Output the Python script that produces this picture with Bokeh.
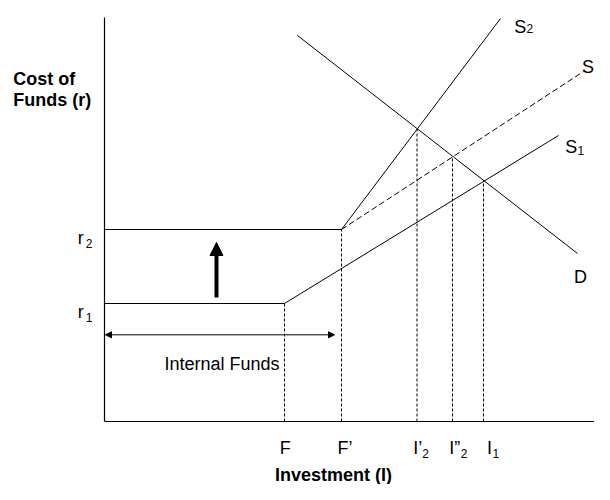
from bokeh.plotting import figure
from bokeh.models import Range1d, Arrow, NormalHead, ColumnDataSource
from bokeh.core.properties import value
from bokeh.embed import file_html
from bokeh.resources import INLINE

# ---------------- data (investment I on x, cost of funds r on y) ----------------
F_int = 180.0       # F  : internal funds (before)
F_int2 = 237.0      # F' : internal funds (after)
r1 = 118.0
r2 = 192.0
I2p = 312.5         # I'_2
I2pp = 348.0        # I''_2
I1 = 379.0          # I_1
eq_x = [I2p, I2pp, I1]
eq_r = [292.5, 265.0, 240.5]

d_x = [193.0, 473.0]            # demand D
d_y = [386.0, 168.0]
s1_x = [0.0, F_int, 454.0]      # supply S1
s1_y = [r1, r1, 286.0]
s2_x = [0.0, F_int2, 396.0]     # supply S2
s2_y = [r2, r2, 403.0]
s_x = [F_int2, 479.0]           # supply S (dashed)
s_y = [r2, 350.0]

x_axis_end = 490.0
y_axis_end = 404.0

tick_x = [F_int, F_int2, I2p, I2pp, I1]
tick_main = ["F", "F\u2019", "I\u2019", "I\u201d", "I"]
tick_sub = ["", "", "2", "2", "1"]

r_vals = [r2, r1]
r_main = ["r", "r"]
r_sub = ["2", "1"]

curve_main = ["S", "S", "S", "D"]
curve_sub = ["2", "", "1", ""]

FONT = value("Liberation Sans")

# ---------------- figure ----------------
p = figure(width=594, height=484, output_backend="svg", toolbar_location=None,
           x_range=Range1d(-104, 490), y_range=Range1d(-63, 421),
           x_axis_type=None, y_axis_type=None, min_border=0,
           background_fill_color="white", border_fill_color="white")
p.outline_line_color = None
p.grid.visible = False

# axes
p.line([0, 0], [0, y_axis_end], line_color="black", line_width=1.2)
p.line([0, x_axis_end], [0, 0], line_color="black", line_width=1.2)

# curves
p.line(s1_x, s1_y, line_color="black", line_width=1)
p.line(s2_x, s2_y, line_color="black", line_width=1)
p.line(s_x, s_y, line_color="black", line_width=1, line_dash="6 3")
p.line(d_x, d_y, line_color="black", line_width=1)

# dashed drop lines
v_tops = [r1, r2] + eq_r
p.segment(x0=tick_x, y0=[0] * len(tick_x), x1=tick_x, y1=v_tops,
          line_color="black", line_width=1, line_dash="3 2")

# x tick labels
tick_dx = [-4.7, -4.0, -3.8, -3.3, 3.4]
sub_dx = [0, 0, 9.0, 11.5, 5.5]
src_t = ColumnDataSource(dict(x=tick_x, y=[0] * 5, text=tick_main,
                              xo=tick_dx, yo=[26] * 5))
p.text(x="x", y="y", text="text", x_offset="xo", y_offset="yo", source=src_t,
       text_font=FONT, text_font_size="18px", text_color="black",
       text_align="left", text_baseline="alphabetic")
src_ts = ColumnDataSource(dict(x=tick_x, y=[0] * 5, text=tick_sub,
                               xo=[a + b for a, b in zip(tick_dx, sub_dx)], yo=[32] * 5))
p.text(x="x", y="y", text="text", x_offset="xo", y_offset="yo", source=src_ts,
       text_font=FONT, text_font_size="12px", text_color="black",
       text_align="left", text_baseline="alphabetic")

# r labels
src_r = ColumnDataSource(dict(x=[0, 0], y=r_vals, text=r_main))
p.text(x="x", y="y", text="text", x_offset=-26.7, y_offset=8.8, source=src_r,
       text_font=FONT, text_font_size="18px", text_color="black",
       text_align="left", text_baseline="alphabetic")
src_rs = ColumnDataSource(dict(x=[0, 0], y=r_vals, text=r_sub))
p.text(x="x", y="y", text="text", x_offset=-18.7, y_offset=14, source=src_rs,
       text_font=FONT, text_font_size="12px", text_color="black",
       text_align="left", text_baseline="alphabetic")

# curve labels (anchored at the curve ends)
end_x = [s2_x[-1], s_x[-1], s1_x[-1], d_x[-1]]
end_y = [s2_y[-1], s_y[-1], s1_y[-1], d_y[-1]]
lab_dx = [13.7, -1.5, 6.7, -3.4]
lab_dy = [8.4, -4.5, 11.7, 23.3]
src_c = ColumnDataSource(dict(x=end_x, y=end_y, text=curve_main, xo=lab_dx, yo=lab_dy))
p.text(x="x", y="y", text="text", x_offset="xo", y_offset="yo", source=src_c,
       text_font=FONT, text_font_size="18px", text_color="black",
       text_align="left", text_baseline="alphabetic")
src_cs = ColumnDataSource(dict(x=end_x, y=end_y, text=curve_sub,
                               xo=[d + 12.3 for d in lab_dx],
                               yo=[d + e for d, e in zip(lab_dy, [1.5, 0, 3.3, 0])]))
p.text(x="x", y="y", text="text", x_offset="xo", y_offset="yo", source=src_cs,
       text_font=FONT, text_font_size="12px", text_color="black",
       text_align="left", text_baseline="alphabetic")

# internal funds double arrow
funds_y = 86.7
p.add_layout(Arrow(start=NormalHead(size=6, fill_color="black", line_color="black", line_width=1),
                   end=NormalHead(size=6, fill_color="black", line_color="black", line_width=1),
                   x_start=1, y_start=funds_y, x_end=F_int2 - 7, y_end=funds_y,
                   line_color="black", line_width=1))
p.text(x=[F_int2 / 2], y=[funds_y], text=["Internal Funds"], x_offset=-1, y_offset=29,
       text_font=FONT, text_font_size="18px", text_color="black",
       text_align="center", text_baseline="alphabetic")

# thick upward shift arrow
shift_x = 112.0
p.add_layout(Arrow(end=NormalHead(size=13, fill_color="black", line_color="black", line_width=1),
                   x_start=shift_x, y_start=r1 + 6, x_end=shift_x, y_end=r2 - 13,
                   line_color="black", line_width=4))

# axis titles
p.text(x=[-91.3, -91.3], y=[342.7, 321.5], text=["Cost of", "Funds (r)"],
       text_font=FONT, text_font_size="18px", text_font_style="bold", text_color="black",
       text_align="left", text_baseline="alphabetic")
p.text(x=[229], y=[-53], text=["Investment (I)"],
       text_font=FONT, text_font_size="18px", text_font_style="bold", text_color="black",
       text_align="center", text_baseline="alphabetic")

open("out.html", "w").write(file_html(p, INLINE))
